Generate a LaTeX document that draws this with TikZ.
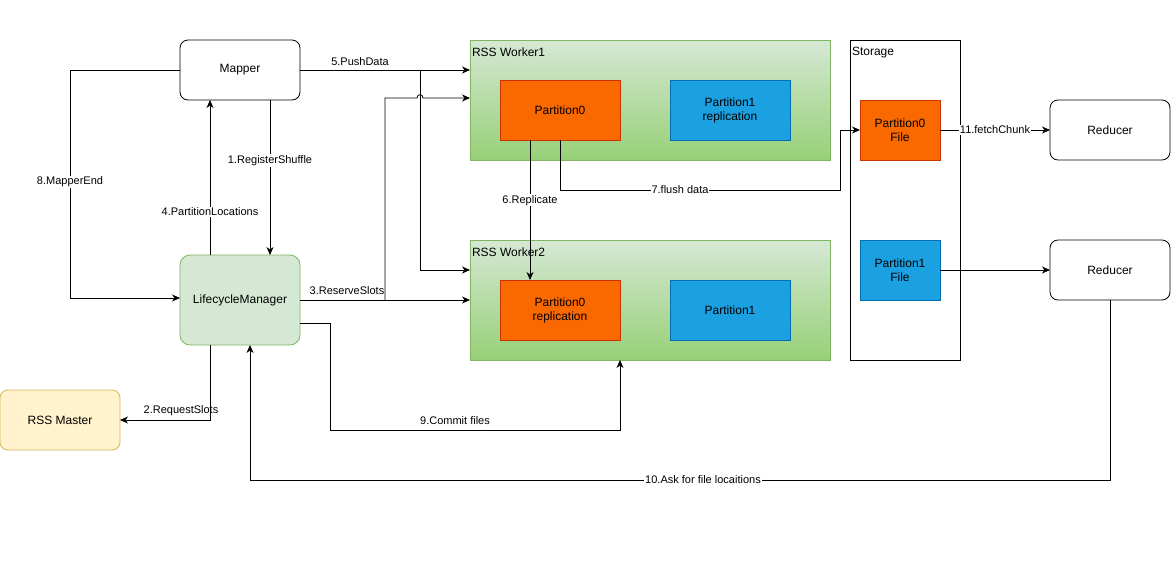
\documentclass[tikz,border=0pt]{standalone}
\usepackage{fontspec}
\setmainfont{Liberation Sans}
\usetikzlibrary{arrows.meta}
\definecolor{gfill}{HTML}{D5E8D4}
\definecolor{gline}{HTML}{82B366}
\definecolor{gdark}{HTML}{97D077}
\definecolor{yfill}{HTML}{FFF2CC}
\definecolor{yline}{HTML}{D6B656}
\definecolor{ofill}{HTML}{FA6800}
\definecolor{oline}{HTML}{C73500}
\definecolor{bfill}{HTML}{1BA1E2}
\definecolor{bline}{HTML}{006EAF}
\tikzset{
  base/.style={inner sep=0pt, outer sep=0pt, line width=0.8pt, font=\fontsize{12}{14}\selectfont, align=center},
  rbox/.style={base, draw=black, fill=white, rounded corners=8pt, minimum width=120pt, minimum height=60pt},
  lmbox/.style={base, draw=gline, fill=gfill, rounded corners=10pt, minimum width=120pt, minimum height=90pt},
  masterbox/.style={base, draw=yline, fill=yfill, rounded corners=8pt, minimum width=120pt, minimum height=60pt},
  worker/.style={base, draw=gline, top color=gfill, bottom color=gdark, minimum width=360pt, minimum height=120pt},
  obox/.style={base, draw=oline, fill=ofill, minimum width=120pt, minimum height=60pt},
  bbox/.style={base, draw=bline, fill=bfill, minimum width=120pt, minimum height=60pt},
  fobox/.style={base, draw=oline, fill=ofill, minimum width=80pt, minimum height=60pt},
  fbbox/.style={base, draw=bline, fill=bfill, minimum width=80pt, minimum height=60pt},
  storebox/.style={base, draw=black, fill=white, minimum width=110pt, minimum height=320pt},
  title/.style={inner sep=0pt, outer sep=0pt, font=\fontsize{12}{14}\selectfont, anchor=west},
  lbl/.style={inner sep=1pt, font=\fontsize{11}{13}\selectfont},
  wlbl/.style={lbl, fill=white},
  arr/.style={draw=black, line width=0.8pt, -{Stealth[length=8pt,width=7pt,inset=2.5pt]}},
}
\begin{document}
\begin{tikzpicture}[x=1pt,y=-1pt]
\useasboundingbox (0,0) rectangle (1171,571);

% nodes
\node[rbox] (mapper) at (240,70) {Mapper};
\node[lmbox] (lm) at (240,300) {LifecycleManager};
\node[masterbox] (master) at (60,420) {RSS Master};

\node[worker] (w1) at (650,100) {};
\node[title] (w1t) at (472,52) {RSS Worker1};
\node[obox] (p0) at (560,110) {Partition0};
\node[bbox] (p1r) at (730,110) {Partition1\\replication};

\node[worker] (w2) at (650,300) {};
\node[title] (w2t) at (472,252) {RSS Worker2};
\node[obox] (p0r) at (560,310) {Partition0\\replication};
\node[bbox] (p1) at (730,310) {Partition1};

\node[storebox] (store) at (905,200) {};
\node[title] (storet) at (852,53) {Storage};
\node[fobox] (p0f) at (900,130) {Partition0\\File};
\node[fbbox] (p1f) at (900,270) {Partition1\\File};

\node[rbox] (r1) at (1110,130) {Reducer};
\node[rbox] (r2) at (1110,270) {Reducer};

% coordinates
\coordinate (b5) at (420,70);
\coordinate (b3) at (385,300);

% 5.PushData
\draw[arr] (mapper.east) -- (mapper.east -| w1.west);
\node[lbl] (l5) at (360,62) {5.PushData};
\draw[arr] (b5) |- ([yshift=30pt]w2.west);

% 3.ReserveSlots
\draw[arr] (lm.east) -- (lm.east -| w2.west);
\node[lbl] (l3) at (347,291) {3.ReserveSlots};
\draw[arr] (b3) -- (385,98) -- (417,98) .. controls (417,93.5) and (423,93.5) .. (423,98) -- ([yshift=2pt]w1.west);

% 1.RegisterShuffle
\draw[arr] ([xshift=30pt]mapper.south) -- node[wlbl, pos=0.39] (l1) {1.RegisterShuffle} ([xshift=30pt]lm.north);
% 4.PartitionLocations
\draw[arr] ([xshift=-30pt]lm.north) -- node[wlbl, pos=0.28] (l4) {4.PartitionLocations} ([xshift=-30pt]mapper.south);
% 8.MapperEnd
\draw[arr] (mapper.west) -- (70,70) |- ([yshift=2pt]lm.west);
\node[wlbl] (l8) at (70,182) {8.MapperEnd};
% 2.RequestSlots
\draw[arr] ([xshift=-30pt]lm.south) |- (master.east);
\node[lbl] (l2) at (181,411) {2.RequestSlots};
% 9.Commit files
\draw[arr] ([yshift=-23pt]lm.east) -- (330,323) -- (330,430) -| ([xshift=-30pt]w2.south);
\node[lbl] (l9) at (455,421) {9.Commit files};
% 10.Ask for file locations
\draw[arr] (r2.south) -- (1110,480) -| ([xshift=10pt]lm.south);
\node[wlbl] (l10) at (703,480) {10.Ask for file locaitions};
% 6.Replicate
\draw[arr] ([xshift=-30pt]p0.south) -- node[wlbl, pos=0.43] (l6) {6.Replicate} ([xshift=-30pt]p0r.north);
% 7.flush data
\draw[arr] (p0.south) |- (840,190) -- (840,130) -- (p0f.west);
\node[wlbl] (l7) at (680,190) {7.flush data};
% 11.fetchChunk
\draw[arr] (p0f.east) -- node[wlbl, midway] (l11) {11.fetchChunk} (r1.west);
% Partition1 File -> Reducer
\draw[arr] (p1f.east) -- (r2.west);
\end{tikzpicture}
\end{document}
